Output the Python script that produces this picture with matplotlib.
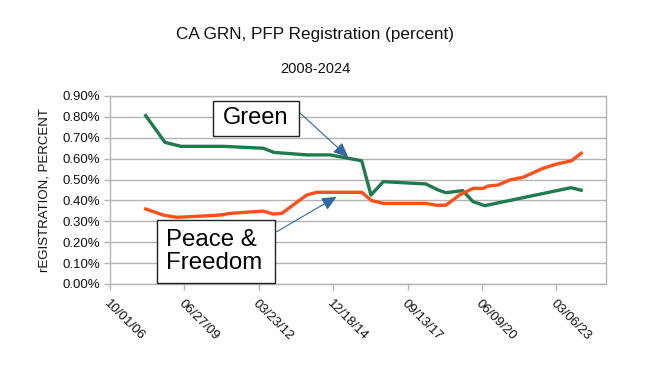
import matplotlib
matplotlib.use("Agg")
import matplotlib.pyplot as plt
import matplotlib.dates as mdates
from matplotlib.ticker import FuncFormatter, FixedLocator
from matplotlib.patches import Rectangle
import datetime as dt

plt.rcParams['font.family'] = ['Liberation Sans', 'DejaVu Sans']

green_dates = ["2008-01-24", "2008-10-09", "2009-05-13", "2010-12-02", "2012-05-22",
               "2012-10-13", "2013-12-27", "2014-11-05", "2016-01-05", "2016-05-09",
               "2016-10-21", "2018-05-16", "2018-10-29", "2019-02-09", "2019-09-22",
               "2020-02-11", "2020-07-17", "2023-09-16", "2024-02-02"]
green_vals = [0.806, 0.678, 0.659, 0.659, 0.650,
              0.630, 0.618, 0.618, 0.590, 0.426,
              0.490, 0.479, 0.450, 0.437, 0.447,
              0.394, 0.375, 0.461, 0.449]

pfp_dates = ["2008-01-24", "2008-09-16", "2009-03-17", "2010-10-18", "2011-03-02",
             "2012-05-22", "2012-10-04", "2013-01-25", "2013-12-27", "2014-05-10",
             "2016-01-05", "2016-05-18", "2016-10-21", "2018-05-16", "2018-10-07",
             "2019-02-09", "2019-08-16", "2020-02-11", "2020-06-24", "2020-08-31",
             "2021-01-12", "2021-06-18", "2021-12-14", "2022-09-09", "2023-03-08",
             "2023-09-26", "2024-02-02"]
pfp_vals = [0.359, 0.330, 0.319, 0.330, 0.338,
            0.349, 0.335, 0.338, 0.426, 0.439,
            0.439, 0.399, 0.386, 0.386, 0.377,
            0.377, 0.427, 0.458, 0.458, 0.469,
            0.474, 0.498, 0.511, 0.554, 0.574,
            0.590, 0.626]

x_tick_labels = ["10/01/06", "06/27/09", "03/23/12", "12/18/14", "09/13/17", "06/09/20", "03/06/23"]
y_ticks = [0.0, 0.1, 0.2, 0.3, 0.4, 0.5, 0.6, 0.7, 0.8, 0.9]

title = "CA GRN, PFP Registration (percent)"
subtitle = "2008-2024"
ylabel = "rEGISTRATION, PERCENT"
green_label = "Green"
pfp_label = "Peace &\nFreedom"

W, H = 657, 376

def to_num(s):
    return mdates.date2num(dt.datetime.strptime(s, "%Y-%m-%d"))

gx = [to_num(d) for d in green_dates]
px = [to_num(d) for d in pfp_dates]
tick_pos = [mdates.date2num(dt.datetime.strptime(t, "%m/%d/%y")) for t in x_tick_labels]

fig = plt.figure(figsize=(W/100, H/100), dpi=100)
ax = fig.add_axes([110/W, 1-284/H, 496/W, 188/H])

grid_c = '#b3b3b3'
for v in y_ticks:
    ax.axhline(v, color=grid_c, lw=1.0, zorder=0)

ax.plot(gx, green_vals, color='#1f7a4d', lw=2.4, solid_joinstyle='round', zorder=3)
ax.plot(px, pfp_vals, color='#ff4f1a', lw=2.4, solid_joinstyle='round', zorder=3)

x0 = tick_pos[0]
ax.set_xlim(x0, x0 + 6667)
ax.set_ylim(0, 0.9)
ax.xaxis.set_major_locator(FixedLocator(tick_pos))
ax.set_xticklabels(x_tick_labels, rotation=-45, ha='left', va='top',
                   rotation_mode='anchor', fontsize=9.5, color='#111111')
ax.set_yticks(y_ticks)
ax.yaxis.set_major_formatter(FuncFormatter(lambda v, p: f"{v:.2f}%"))
for lab in ax.get_yticklabels():
    lab.set_fontsize(9.5)
    lab.set_color('#111111')
ax.tick_params(axis='both', colors=grid_c, labelcolor='#111111', length=4, width=1)
ax.tick_params(axis='x', pad=6)
ax.tick_params(axis='y', pad=3)
for s in ax.spines.values():
    s.set_color(grid_c)
    s.set_linewidth(1.0)

ax.set_ylabel(ylabel, fontsize=9.5, color='#111111', labelpad=9)

fig.text(314.7/W, 1-34/H, title, ha='center', va='center', fontsize=12.3, color='#111111')
fig.text(315/W, 1-69/H, subtitle, ha='center', va='center', fontsize=10.5, color='#111111')

def fp(x, y):
    # figure pixel coordinates from top-left pixel position
    return (x, H - y)

arrow_c = '#3465a4'
aprops = dict(arrowstyle='-|>,head_length=0.9,head_width=0.4', color=arrow_c,
              lw=0.8, shrinkA=0, shrinkB=0, mutation_scale=10)

# arrows
fig.add_artist(matplotlib.patches.FancyArrowPatch(
    fp(299.3, 112.3), fp(348.3, 157.3), transform=None, zorder=6, **aprops))
fig.add_artist(matplotlib.patches.FancyArrowPatch(
    fp(276.7, 231.7), fp(336.7, 196.7), transform=None, zorder=6, **aprops))

# boxes
def box(x0p, y0p, x1p, y1p):
    r = Rectangle((x0p/W, 1 - y1p/H), (x1p - x0p)/W, (y1p - y0p)/H,
                  transform=fig.transFigure, fc='white', ec='#222222', lw=1.0, zorder=7)
    fig.add_artist(r)

box(213.3, 100.7, 299.3, 136)
fig.text(256/W, 1-118.5/H, green_label, ha='center', va='center', fontsize=17,
         color='black', zorder=8)
box(156.7, 220, 275, 283.3)
fig.text(166/W, 1-251.5/H, pfp_label, ha='left', va='center', fontsize=17.3,
         color='black', linespacing=1.05, zorder=8)

fig.savefig("out.png", dpi=100)
